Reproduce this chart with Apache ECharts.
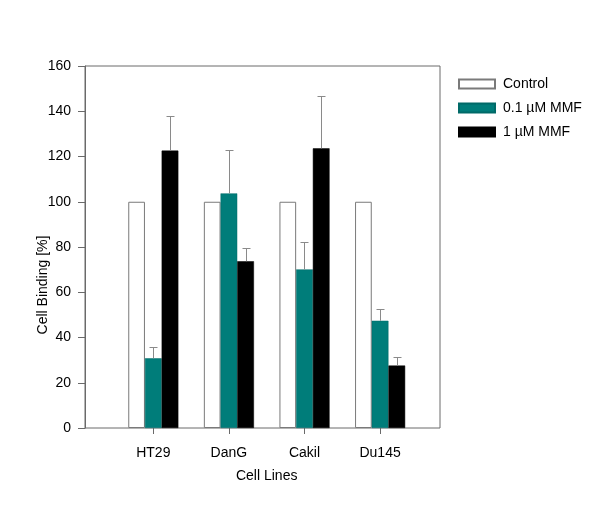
<!DOCTYPE html>
<html>
<head>
<meta charset="utf-8">
<script src="https://cdn.jsdelivr.net/npm/echarts@6/dist/echarts.min.js"></script>
<style>html,body{margin:0;padding:0;background:#fff}#c{width:600px;height:514px}</style>
</head>
<body>
<div id="c"></div>
<script>
var categories = ['HT29', 'DanG', 'Cakil', 'Du145'];
var seriesNames = ['Control', '0.1 µM MMF', '1 µM MMF'];
var control = [100, 100, 100, 100];
var mmf01 = [30.8, 103.7, 70.1, 47.4];
var mmf1 = [122.6, 73.7, 123.6, 27.6];
var err01 = [5.1, 19.2, 12.3, 5.0];
var err1 = [15.3, 6.0, 23.1, 4.0];
var yTicks = [0, 20, 40, 60, 80, 100, 120, 140, 160];

var BW = 16.7;
var font = 'Liberation Sans, Arial, Helvetica, sans-serif';

function errData(vals, errs) {
  return vals.map(function (v, i) { return [i, v, errs[i]]; });
}
function errSeries(vals, errs, offsetIdx) {
  return {
    type: 'custom',
    xAxisIndex: 1, yAxisIndex: 1,
    z: 5,
    silent: true,
    data: errData(vals, errs),
    renderItem: function (params, api) {
      var x = Math.round(api.coord([api.value(0), 0])[0] + offsetIdx * BW) + 0.5;
      var y0 = api.coord([api.value(0), api.value(1)])[1];
      var y1 = Math.round(api.coord([api.value(0), api.value(1) + api.value(2)])[1]) + 0.5;
      var st = { stroke: '#8a8a8a', lineWidth: 1 };
      return {
        type: 'group',
        children: [
          { type: 'line', shape: { x1: x, y1: y0, x2: x, y2: y1 }, style: st },
          { type: 'line', shape: { x1: x - 4, y1: y1, x2: x + 4, y2: y1 }, style: st }
        ]
      };
    }
  };
}

var chart = echarts.init(document.getElementById('c'), null, { renderer: 'canvas' });
chart.setOption({
  animation: false,
  backgroundColor: '#fff',
  textStyle: { fontFamily: font },
  grid: [
    { left: 85, top: 66, width: 355, height: 362, show: true, borderColor: '#6a6a6a', borderWidth: 1, backgroundColor: 'transparent' },
    { left: 115.5, top: 66, width: 302.4, height: 362 }
  ],
  legend: {
    left: 458, top: 77, orient: 'vertical', padding: 0,
    itemWidth: 36, itemHeight: 9, itemGap: 10,
    textStyle: { fontSize: 14, color: '#000', fontFamily: font, padding: [0, 0, 0, 3] },
    data: seriesNames.map(function (n) { return { name: n, icon: 'rect' }; })
  },
  xAxis: [
    { type: 'value', gridIndex: 0, min: 0, max: 1, show: true, axisLine: { show: false }, axisTick: { show: false }, axisLabel: { show: false }, splitLine: { show: false } },
    {
      type: 'category', gridIndex: 1, data: categories, boundaryGap: true,
      axisLine: { show: false },
      axisTick: { show: true, alignWithLabel: true, length: 6, lineStyle: { color: '#6a6a6a' } },
      axisLabel: { fontSize: 14, color: '#000', margin: 18, fontFamily: font },
      name: 'Cell Lines', nameLocation: 'middle', nameGap: 41, nameMoveOverlap: false,
      nameTextStyle: { fontSize: 14, color: '#000', fontFamily: font }
    }
  ],
  yAxis: [
    {
      type: 'value', gridIndex: 0, min: 0, max: 160, interval: 20,
      axisLine: { show: true, lineStyle: { color: '#6a6a6a' } },
      axisTick: { show: true, length: 7, lineStyle: { color: '#6a6a6a' } },
      axisLabel: { fontSize: 14, color: '#000', margin: 14, fontFamily: font,
        formatter: function (v) { return yTicks.indexOf(v) >= 0 ? String(v) : ''; } },
      splitLine: { show: false },
      name: 'Cell Binding [%]', nameLocation: 'middle', nameGap: 35, nameRotate: 90, nameMoveOverlap: false,
      nameTextStyle: { fontSize: 14, color: '#000', fontFamily: font, padding: [0, 76, 0, 0] }
    },
    { type: 'value', gridIndex: 1, min: 0, max: 160, show: false }
  ],
  series: [
    { name: seriesNames[0], type: 'bar', xAxisIndex: 1, yAxisIndex: 1, data: control, barWidth: BW, barGap: '0%',
      itemStyle: { color: '#fff', borderColor: '#7a7a7a', borderWidth: 1 } },
    { name: seriesNames[1], type: 'bar', xAxisIndex: 1, yAxisIndex: 1, data: mmf01, barWidth: BW, barGap: '0%',
      itemStyle: { color: '#007d7a', borderColor: '#006a68', borderWidth: 0.5 } },
    { name: seriesNames[2], type: 'bar', xAxisIndex: 1, yAxisIndex: 1, data: mmf1, barWidth: BW, barGap: '0%',
      itemStyle: { color: '#000', borderColor: '#000', borderWidth: 0.5 } },
    errSeries(mmf01, err01, 0),
    errSeries(mmf1, err1, 1)
  ]
});
</script>
</body>
</html>
